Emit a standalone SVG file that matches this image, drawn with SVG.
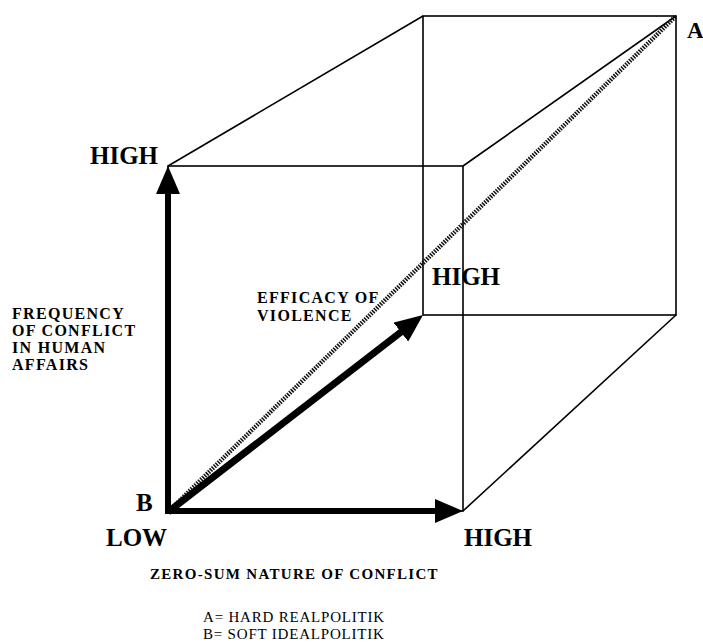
<svg xmlns="http://www.w3.org/2000/svg" width="703" height="644" viewBox="0 0 703 644">
<style>
.edge{stroke:#000;stroke-width:1.6;fill:none}
.axis{stroke:#000;stroke-width:6;fill:none;marker-end:url(#ah)}
.hatch{stroke:#111;stroke-width:4.5;stroke-dasharray:1.5 1.2;fill:none}
.big{font-family:"Liberation Serif",serif;font-weight:bold;font-size:25px;fill:#000}
.lab{font-family:"Liberation Serif",serif;font-weight:bold;font-size:16px;letter-spacing:1.3px;fill:#000}
.leg{font-family:"Liberation Serif",serif;font-size:15px;letter-spacing:0.8px;fill:#000}
</style>
<defs>
<marker id="ah" markerUnits="userSpaceOnUse" viewBox="0 0 28 24" refX="8" refY="12" markerWidth="28" markerHeight="24" orient="auto">
<path d="M0,0 L28,12 L0,24 z" fill="#000"/>
</marker>
</defs>
<g id="cube">
<rect class="edge" x="168" y="166" width="295" height="345"/>
<rect class="edge" x="423" y="16" width="253" height="299"/>
<line class="edge" x1="168" y1="166" x2="423" y2="16"/>
<line class="edge" x1="463" y1="166" x2="676" y2="16"/>
<line class="edge" x1="463" y1="511" x2="676" y2="315"/>
</g>
<g id="connectors">
<line class="hatch" x1="168" y1="512" x2="676" y2="16"/>
<line class="axis" x1="168" y1="514" x2="168" y2="186"/>
<line class="axis" x1="165" y1="511" x2="443" y2="511"/>
<line class="axis" x1="168" y1="512" x2="407.2" y2="327.2" style="stroke-width:7"/>
</g>
<g id="node-A"><text class="big" x="687" y="38" style="font-size:23px">A</text></g>
<g id="node-B"><text class="big" x="136" y="511">B</text></g>
<g id="y-high"><text class="big" x="90" y="164">HIGH</text></g>
<g id="z-high"><text class="big" x="432" y="285">HIGH</text></g>
<g id="x-low"><text class="big" x="106" y="546">LOW</text></g>
<g id="x-high"><text class="big" x="464" y="546">HIGH</text></g>
<g id="y-label">
<text class="lab" x="12" y="319">FREQUENCY</text>
<text class="lab" x="12" y="336">OF CONFLICT</text>
<text class="lab" x="12" y="353">IN HUMAN</text>
<text class="lab" x="12" y="370">AFFAIRS</text>
</g>
<g id="z-label">
<text class="lab" x="257" y="303">EFFICACY OF</text>
<text class="lab" x="257" y="321">VIOLENCE</text>
</g>
<g id="x-label"><text class="lab" x="150" y="579" style="font-size:15px">ZERO-SUM NATURE OF CONFLICT</text></g>
<g id="legend">
<text class="leg" x="203" y="622">A= HARD REALPOLITIK</text>
<text class="leg" x="203" y="639">B= SOFT IDEALPOLITIK</text>
</g>
</svg>
